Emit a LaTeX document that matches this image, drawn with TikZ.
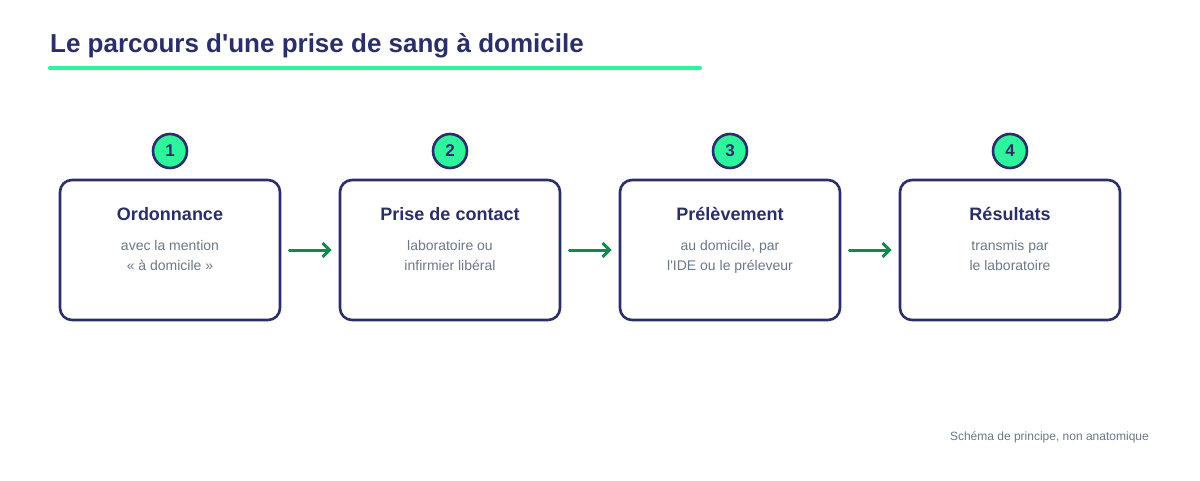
\documentclass[tikz,border=0pt]{standalone}
\usepackage{fontspec}
\setmainfont{Liberation Sans}[Ligatures=TeXOff]
\usetikzlibrary{arrows.meta}
\definecolor{navy}{HTML}{2A2E6A}
\definecolor{mint}{HTML}{2EF59C}
\definecolor{arrowgreen}{HTML}{0E8A4E}
\definecolor{subgray}{HTML}{6B7889}
\tikzset{
  stepbox/.style={draw=navy, line width=2.6pt, rounded corners=12pt, minimum width=220pt, minimum height=140pt, fill=white},
  numcircle/.style={circle, draw=navy, line width=2.6pt, fill=mint, minimum size=34pt, inner sep=0pt, font=\fontsize{17}{17}\selectfont\bfseries, text=navy},
  boxtitle/.style={font=\fontsize{18}{20}\selectfont\bfseries, text=navy},
  boxsub/.style={font=\fontsize{14}{20}\selectfont, text=subgray, align=center},
  flow/.style={draw=arrowgreen, line width=3pt, -{Straight Barb[length=7pt, width=14pt, line width=3pt]}, line cap=round}
}
\begin{document}
\begin{tikzpicture}[x=1pt, y=-1pt]
\useasboundingbox (0,0) rectangle (1200,480);
\fill[white] (0,0) rectangle (1200,480);
\node[anchor=base west, inner sep=0pt, text=navy, font=\fontsize{26}{30}\selectfont\bfseries] (title) at (50,52) {Le parcours d'une prise de sang à domicile};
\coordinate (ulA) at (50,68);
\coordinate (ulB) at (700,68);
\draw[mint, line width=4pt, line cap=round] (ulA) -- (ulB);

\foreach \i/\cx/\t/\sa/\sb in {1/170/Ordonnance/avec la mention/« à domicile »,
  2/450/Prise de contact/laboratoire ou/infirmier libéral,
  3/730/Prélèvement/{au domicile, par}/l'IDE ou le préleveur,
  4/1010/Résultats/transmis par/le laboratoire}{
  \node[stepbox] (box\i) at (\cx,250) {};
  \node[numcircle] (num\i) at (\cx,151) {\i};
  \node[boxtitle, anchor=base] (t\i) at (\cx,220) {\t};
  \node[boxsub, anchor=base] (sa\i) at (\cx,250) {\sa};
  \node[boxsub, anchor=base] (sb\i) at (\cx,270) {\sb};
}
\foreach \a/\b in {1/2,2/3,3/4}{
  \draw[flow] ([xshift=8pt]box\a.east) -- ([xshift=-7pt]box\b.west);
}
\node[anchor=base east, inner sep=0pt, text=subgray, font=\fontsize{12}{14}\selectfont] (note) at (1149,440) {Schéma de principe, non anatomique};
\end{tikzpicture}
\end{document}
